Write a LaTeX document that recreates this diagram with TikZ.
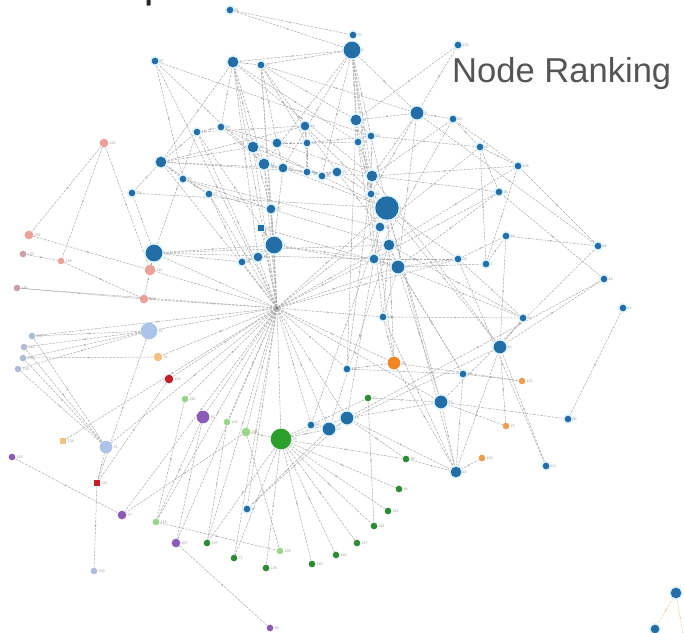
\documentclass[tikz,border=0pt]{standalone}
\usepackage{fontspec}
\setmainfont{Liberation Sans}
\usetikzlibrary{decorations.markings,arrows.meta}
\definecolor{nblue}{RGB}{36,110,168}
\definecolor{npink}{RGB}{236,160,154}
\definecolor{nmauve}{RGB}{204,160,168}
\definecolor{nlblue}{RGB}{172,196,232}
\definecolor{ngblue}{RGB}{176,188,214}
\definecolor{norange}{RGB}{242,134,36}
\definecolor{nsorange}{RGB}{234,160,80}
\definecolor{nlorange}{RGB}{246,192,128}
\definecolor{nred}{RGB}{196,30,40}
\definecolor{ngreen}{RGB}{44,160,44}
\definecolor{ndgreen}{RGB}{46,138,52}
\definecolor{nlgreen}{RGB}{152,214,138}
\definecolor{npurple}{RGB}{138,92,184}
\definecolor{ntitle}{RGB}{85,85,85}
\pgfdeclarelayer{edges}
\pgfsetlayers{edges,main}
\begin{document}
\begin{tikzpicture}[x=0.03cm,y=-0.03cm,
  nd/.style={circle,inner sep=0pt,draw=none},
  szxs/.style={minimum size=0.16cm},
  szs/.style={minimum size=0.2cm},
  szsm/.style={minimum size=0.26cm},
  szm/.style={minimum size=0.32cm},
  szml/.style={minimum size=0.38cm},
  szl/.style={minimum size=0.5cm},
  szg/.style={minimum size=0.62cm},
  szxl/.style={minimum size=0.7cm},
  halo/.style={preaction={draw=cyan!12,line width=3pt}},
  bn/.style={nd,fill=nblue,halo},
  pn/.style={nd,fill=npink},
  lbn/.style={nd,fill=nlblue},
  gbn/.style={nd,fill=ngblue},
  on/.style={nd,fill=norange},
  son/.style={nd,fill=nsorange},
  lon/.style={nd,fill=nlorange},
  rn/.style={nd,fill=nred},
  gn/.style={nd,fill=ndgreen},
  lgn/.style={nd,fill=nlgreen},
  vn/.style={nd,fill=npurple},
  lab/.style={font=\fontsize{3.2}{3.2}\selectfont,text=gray!75,inner sep=0.6pt},
  nlab/.style={label={[lab]right:#1}},
  lk/.style={draw=gray!68,line width=0.42pt,dash pattern=on 2.2pt off 1pt,
    postaction={decorate},
    decoration={markings,mark=at position 0.5 with {\arrow{Stealth[length=2pt,width=1.6pt]}}}},
  lko/.style={lk,draw=nlorange!90}
]
\useasboundingbox (0,0) rectangle (685,632);

% tail of a heading cut by the top edge
\fill[black!85,rounded corners=0.5pt] (146.5,-2) rectangle (150.5,5.5);

% title
\node[anchor=base west,text=ntitle,font=\fontsize{29.5}{30}\selectfont,inner sep=0pt] (title) at (452,82) {Node Ranking};

% central hub
\node[nd,fill=black!75,minimum size=0.07cm] (hub) at (277,308) {};
\node[nd,fill=gray!60,minimum size=0.1cm] (gy) at (392,317) {};

% blue community
\node[bn,szs,nlab=96] (b1) at (230,10) {};
\node[bn,szs,nlab=70] (b2) at (353,35) {};
\node[bn,szl,nlab=3] (b3) at (352,50) {};
\node[bn,szm,nlab=4] (b4) at (233,62) {};
\node[bn,szs,nlab=27] (b5) at (261,65) {};
\node[bn,szs,nlab=87] (b6) at (155,61) {};
\node[bn,szs,nlab=130] (b7) at (458,45) {};
\node[bn,szml,nlab=9] (b8) at (417,113) {};
\node[bn,szm,nlab=31] (b9) at (356,120) {};
\node[bn,szs,nlab=58] (b10) at (221,127) {};
\node[bn,szsm,nlab=44] (b11) at (305,126) {};
\node[bn,szs,nlab=13] (b12) at (197,132) {};
\node[bn,szs,nlab=59] (b13) at (371,136) {};
\node[bn,szm,nlab=12] (b14) at (253,147) {};
\node[bn,szsm,nlab=40] (b15) at (277,143) {};
\node[bn,szs,nlab=66] (b16) at (307,143) {};
\node[bn,szs,nlab=71] (b17) at (358,142) {};
\node[bn,szs,nlab=53] (b18) at (453,119) {};
\node[bn,szs,nlab=82] (b19) at (480,147) {};
\node[bn,szm,nlab=6] (b20) at (161,162) {};
\node[bn,szm,nlab=17] (b21) at (264,164) {};
\node[bn,szsm,nlab=20] (b22) at (283,168) {};
\node[bn,szs,nlab=75] (b23) at (307,172) {};
\node[bn,szs,nlab=90] (b24) at (322,176) {};
\node[bn,szsm,nlab=33] (b25) at (337,172) {};
\node[bn,szm,nlab=11] (b26) at (372,176) {};
\node[bn,szs,nlab=108] (b27) at (518,166) {};
\node[bn,szs,nlab=50] (b28) at (183,179) {};
\node[bn,szs,nlab=37] (b29) at (209,194) {};
\node[bn,szs,nlab=64] (b30) at (371,194) {};
\node[bn,szs,nlab=79] (b31) at (132,193) {};
\node[bn,szs,nlab=93] (b32) at (499,192) {};
\node[bn,szsm,nlab=23] (b33) at (271,209) {};
\node[bn,szxl,nlab=1] (b34) at (387,208) {};
\node[bn,szxs,rectangle,nlab=121] (b35) at (261,228) {};
\node[bn,szsm,nlab=28] (b36) at (380,227) {};
\node[bn,szl,nlab=2] (b37) at (274,245) {};
\node[bn,szm,nlab=16] (b38) at (389,245) {};
\node[bn,szsm,nlab=41] (b39) at (258,257) {};
\node[bn,szs,nlab=88] (b40) at (242,262) {};
\node[bn,szsm,nlab=35] (b41) at (374,259) {};
\node[bn,szml,nlab=8] (b42) at (398,267) {};
\node[bn,szl,nlab=5] (b43) at (154,253) {};
\node[bn,szs,nlab=24] (b44) at (506,236) {};
\node[bn,szs,nlab=46] (b45) at (598,246) {};
\node[bn,szs,nlab=39] (b46) at (458,259) {};
\node[bn,szs,nlab=7] (b47) at (486,264) {};
\node[bn,szs,nlab=14] (b48) at (604,279) {};
\node[bn,szs,nlab=61] (b49) at (623,308) {};
\node[bn,szs,nlab=54] (b50) at (523,318) {};
\node[bn,szml,nlab=10] (b51) at (500,347) {};
\node[bn,szs,nlab=52] (b52) at (383,317) {};
\node[bn,szs,nlab=48] (b53) at (463,374) {};
\node[bn,szs,nlab=117] (b54) at (347,369) {};
\node[bn,szml,nlab=15] (b55) at (441,402) {};
\node[bn,szs,nlab=86] (b56) at (568,419) {};
\node[bn,szml,nlab=19] (b58) at (347,418) {};
\node[bn,szml,nlab=22] (b59) at (329,429) {};
\node[bn,szs,nlab=85] (b60) at (311,425) {};
\node[bn,szm,nlab=18] (b61) at (456,472) {};
\node[bn,szs,nlab=97] (b62) at (247,509) {};
\node[bn,szs,nlab=111] (b63) at (546,466) {};
\node[bn,szm] (b64) at (676,593) {};
\node[bn,szsm] (b65) at (655,629) {};
\coordinate (bx) at (684,640);

% pink community
\node[pn,szsm,nlab=142] (p1) at (104,143) {};
\node[pn,szsm,nlab=115] (p2) at (29,235) {};
\node[nd,fill=nmauve,szs,nlab=133] (p3) at (23,254) {};
\node[pn,szs,nlab=148] (p4) at (61,261) {};
\node[pn,szm,nlab=112] (p5) at (150,270) {};
\node[nd,fill=nmauve,szs,nlab=146] (p6) at (17,288) {};
\node[pn,szsm,nlab=144] (p7) at (144,299) {};

% light blue community
\node[lbn,szl,nlab=25] (l1) at (149,331) {};
\node[gbn,szs,nlab=135] (l2) at (32,336) {};
\node[gbn,szs,nlab=141] (l3) at (24,347) {};
\node[gbn,szs,nlab=139] (l4) at (23,358) {};
\node[gbn,szs,nlab=136] (l5) at (18,369) {};
\node[lbn,szml,nlab=21] (l6) at (106,447) {};
\node[gbn,szs,nlab=150] (l7) at (94,571) {};

% orange and red nodes
\node[on,szml,nlab=26] (o1) at (394,363) {};
\node[son,szs,nlab=125] (o2) at (522,381) {};
\node[son,szs,nlab=73] (o3) at (506,426) {};
\node[son,szs,nlab=102] (o4) at (482,458) {};
\node[lon,szsm,nlab=42] (o5) at (158,357) {};
\node[lon,szs,rectangle,nlab=134] (o6) at (63,441) {};
\node[rn,szsm,nlab=104] (r1) at (169,379) {};
\node[rn,szs,rectangle,nlab=113] (r2) at (97,483) {};

% green community
\node[nd,fill=ngreen,szg,nlab=29] (g0) at (281,439) {};
\node[gn,szs,nlab=77] (g1) at (368,398) {};
\node[gn,szs,nlab=89] (g2) at (406,459) {};
\node[gn,szs,nlab=94] (g3) at (399,489) {};
\node[gn,szs,nlab=123] (g4) at (388,511) {};
\node[gn,szs,nlab=116] (g5) at (374,526) {};
\node[gn,szs,nlab=127] (g6) at (357,543) {};
\node[gn,szs,nlab=140] (g7) at (336,555) {};
\node[gn,szs,nlab=145] (g8) at (312,564) {};
\node[gn,szs,nlab=138] (g9) at (266,568) {};
\node[gn,szs,nlab=72] (g10) at (234,558) {};
\node[gn,szs,nlab=137] (g11) at (207,543) {};
\node[lgn,szs,nlab=110] (q1) at (185,399) {};
\node[lgn,szs,nlab=149] (q2) at (227,422) {};
\node[lgn,szsm,nlab=154] (q3) at (246,432) {};
\node[lgn,szs,nlab=129] (q4) at (156,522) {};
\node[lgn,szs,nlab=128] (q5) at (280,551) {};

% purple nodes
\node[vn,szml,nlab=36] (v1) at (203,417) {};
\node[vn,szs,nlab=143] (v2) at (12,457) {};
\node[vn,szsm,nlab=57] (v3) at (122,515) {};
\node[vn,szsm,nlab=107] (v4) at (176,543) {};
\node[vn,szs,nlab=99] (v5) at (270,628) {};

\begin{pgfonlayer}{edges}
% spokes of the central hub
\foreach \t in {p6,p7,p5,l1,l2,o5,r1,q1,v1,q2,q3,g0,l6,v3,q4,v4,g10,b62,b60,b59,b58,b54,g11,o6,
  b4,b5,b14,b21,b33,b37,b39,b40,b35,b34,b36,b38,b41,b42,b46,b52,b20,b29,b43,b12,b6,o1,b55}
  \draw[lk] (hub) -- (\t);
% spokes of the green hub
\foreach \t in {g1,g2,g3,g4,g5,g6,g7,g8,g9,g10,g11,b58,b59,q3}
  \draw[lk] (g0) -- (\t);
% left side
\foreach \a/\b in {p1/p2,p1/p4,p1/p5,p2/p5,p3/p4,p4/p7,p6/p7,p5/b43,p7/b43,
  l1/l2,l1/l3,l1/l4,l1/l5,l2/l6,l3/l6,l4/l6,l5/l6,l1/r2,l6/r2,r2/l7,r1/r2,v2/v3,l4/o5,
  v1/q4,v1/v4,q1/q4,q3/v3,v4/v5,q4/q5,q3/q5,g11/q2,g1/g5,g1/b55,b62/b59,b62/b58}
  \draw[lk] (\a) -- (\b);
% lower right
\foreach \a/\b in {b58/b55,b59/b51,b55/b45,b55/b56,b55/b61,b58/b61,b61/b51,b61/b53,b61/o4,
  b53/o2,b54/o1,o1/o2,o1/b61,b52/o1,b52/b61,b52/b42,b51/b50,b51/b44,b51/b48,b48/b58,
  b56/b49,b63/b51,b63/b46,b44/b45,b61/g2,b58/g2,b54/b53,b52/gy,gy/b50,b50/b46,b50/b42,
  b53/b42,o3/b55,o3/b51,b46/b44,b46/b42,b46/b34,b47/b44,b47/b27,b27/b45,b45/b8,b47/b19,
  b48/b32,b50/b38}
  \draw[lk] (\a) -- (\b);
% long links across the middle
\foreach \a/\b in {b3/b52,b9/b54,b4/b39,b26/b54,b30/o1,b34/b55,b34/b61,b42/b55,b41/b58,
  b38/b59,b36/b60,b42/b53,b38/o1,b34/b51,b26/b51,b17/b41,b5/b37,b43/b41,b43/b38}
  \draw[lk] (\a) -- (\b);
% upper cluster
\foreach \a/\b in {b1/b2,b1/b3,b2/b3,b3/b4,b3/b5,b3/b8,b3/b9,b3/b21,b3/b22,b3/b24,b3/b26,
  b3/b30,b3/b17,b3/b13,b4/b5,b4/b10,b4/b14,b4/b20,b4/b21,b4/b26,b4/b17,b5/b9,b5/b15,b5/b16,
  b5/b25,b5/b8,b6/b28,b6/b13,b6/b21,b7/b8,b7/b9,b8/b18,b8/b9,b8/b30,b8/b26,b8/b42,b9/b13,
  b9/b17,b9/b36,b10/b21,b10/b12,b10/b15,b10/b34,b11/b16,b11/b20,b11/b12,b11/b23,b11/b34,
  b12/b20,b12/b43,b13/b26,b13/b34,b13/b19,b14/b20,b14/b21,b14/b24,b14/b33,b15/b16,b15/b22,
  b15/b26,b16/b17,b16/b23,b16/b13,b17/b26,b17/b30,b18/b19,b18/b27,b18/b26,b18/b41,b19/b27,
  b19/b32,b19/b36,b20/b26,b20/b29,b20/b28,b20/b22,b20/b31,b21/b22,b21/b33,b21/b23,b22/b24,
  b22/b37,b23/b25,b24/b25,b25/b30,b25/b36,b26/b30,b26/b32,b26/b27,b27/b38,b28/b29,b28/b33,
  b28/b36,b29/b33,b29/b40,b30/b34,b31/b34,b31/b43,b32/b41,b32/b42,b33/b37,b33/b38,b34/b36,
  b34/b38,b34/b22,b35/b37,b35/b42,b36/b41,b37/b39,b37/b40,b37/b41,b37/b42,b37/b12,b38/b42,
  b38/b52,b39/b40,b40/b43,b41/b42,b41/b46,b42/b47,b43/b37}
  \draw[lk] (\a) -- (\b);
% small separate component
\draw[lko] (b64) -- (b65);
\draw[lko] (b64) -- (bx);
\end{pgfonlayer}
\end{tikzpicture}
\end{document}
